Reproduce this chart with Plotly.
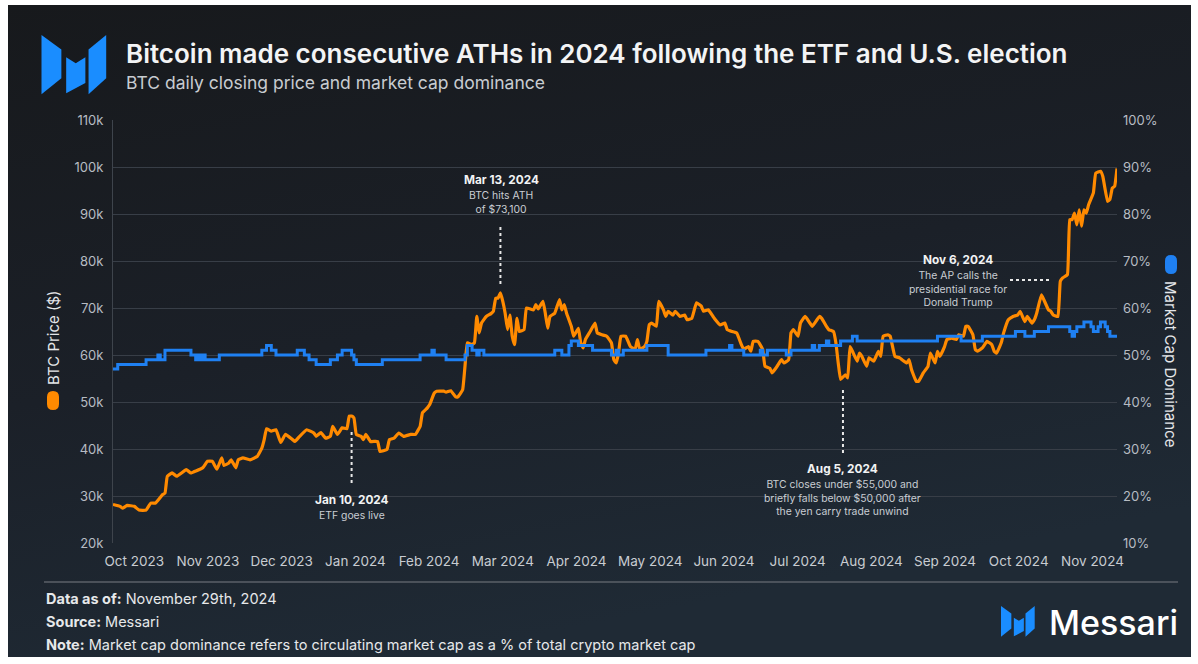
import base64
import numpy as np
import pandas as pd
import plotly.graph_objects as go

# ---------------- data ----------------
START = "2023-10-01"

price_day = [0, 3, 4, 6, 9, 11, 14, 16, 18, 21, 22, 23, 25, 27, 29, 31, 33, 35, 38, 40,
             42, 44, 46, 47, 49, 50, 52, 53, 55, 58, 61, 63, 64, 65, 67, 69, 71, 73, 76, 77,
             79, 82, 85, 86, 88, 90, 92, 93, 95, 97, 99, 100, 101, 102, 103, 105, 106, 107, 109, 112,
             113, 116, 117, 119, 121, 123, 126, 128, 130, 131, 133, 134, 136, 137, 140, 141, 143, 145, 146, 148,
             149, 150, 152, 153, 154, 155, 156, 158, 160, 161, 162, 163, 164, 165, 166, 167, 168, 169, 170, 171,
             172, 174, 175, 178, 179, 180, 182, 183, 184, 185, 187, 189, 190, 191, 192, 194, 195, 197, 198, 199,
             200, 202, 204, 205, 207, 209, 211, 212, 213, 214, 215, 217, 219, 221, 222, 223, 225, 226, 227, 228,
             230, 231, 233, 234, 235, 237, 238, 240, 242, 243, 245, 247, 249, 250, 252, 254, 255, 257, 259, 260,
             262, 264, 266, 267, 269, 270, 271, 273, 275, 276, 278, 279, 281, 282, 283, 284, 286, 287, 288, 290,
             291, 293, 295, 296, 298, 299, 300, 302, 303, 305, 306, 307, 308, 310, 311, 312, 313, 315, 316, 317,
             319, 320, 322, 323, 324, 325, 326, 328, 329, 331, 333, 334, 336, 337, 338, 340, 341, 343, 345, 346,
             348, 349, 350, 352, 353, 355, 357, 358, 360, 361, 362, 364, 365, 366, 368, 370, 372, 373, 374, 376,
             377, 379, 381, 383, 384, 386, 387, 389, 390, 391, 393, 394, 396, 397, 398, 400, 401, 402, 404, 405,
             406, 407, 408, 409, 410, 411, 412, 413, 415, 416, 418, 419, 421, 422, 423, 424, 425]

price_k = [28.2, 27.8, 27.4, 28.0, 27.8, 27.0, 27.0, 28.5, 28.5, 30.3, 30.6, 34.2, 34.9, 34.2, 34.9, 35.6, 34.9, 35.3, 36.0, 37.4,
           37.4, 35.7, 38.1, 36.5, 37.0, 37.7, 36.0, 37.7, 38.1, 37.7, 38.4, 40.2, 42.0, 44.3, 43.8, 44.1, 41.4, 43.1, 42.0, 41.6,
           42.7, 44.1, 43.4, 42.7, 43.5, 42.3, 42.7, 44.8, 43.1, 44.5, 44.3, 47.0, 47.0, 46.6, 43.1, 42.7, 42.0, 43.1, 41.6, 41.6,
           39.5, 39.9, 42.0, 42.3, 43.4, 42.7, 43.1, 43.1, 44.8, 47.7, 48.7, 49.4, 51.9, 52.3, 52.3, 52.1, 52.4, 51.1, 51.1, 52.6,
           57.6, 62.6, 62.2, 62.6, 68.2, 64.7, 66.8, 68.2, 68.8, 69.3, 72.1, 72.1, 73.2, 71.4, 68.9, 65.4, 68.5, 64.0, 62.2, 67.8,
           65.0, 65.4, 70.0, 69.6, 70.7, 69.8, 71.4, 68.9, 65.7, 68.2, 68.9, 71.8, 69.6, 70.7, 68.9, 66.1, 64.0, 65.7, 62.6, 61.5,
           63.3, 65.0, 66.8, 64.7, 64.3, 64.0, 62.6, 59.0, 58.3, 60.4, 64.0, 64.0, 61.8, 61.2, 63.3, 61.2, 61.8, 62.9, 66.4, 66.8,
           66.1, 71.4, 69.6, 68.2, 69.3, 68.5, 69.3, 68.2, 68.5, 67.5, 67.8, 71.1, 70.4, 69.3, 69.6, 68.2, 67.5, 66.4, 66.8, 65.4,
           65.0, 64.7, 62.2, 61.2, 61.8, 60.8, 62.9, 62.9, 61.2, 57.6, 57.2, 56.2, 57.5, 58.3, 59.0, 58.3, 59.0, 64.7, 65.4, 64.0,
           66.8, 68.2, 66.8, 66.1, 67.5, 68.2, 67.8, 66.1, 65.4, 65.0, 62.6, 58.3, 54.8, 55.8, 55.1, 61.8, 60.8, 58.7, 60.4, 59.7,
           57.6, 59.4, 58.7, 59.7, 60.8, 59.7, 64.0, 64.3, 64.0, 59.7, 59.4, 59.0, 58.3, 59.0, 56.9, 54.4, 54.4, 56.2, 57.6, 60.4,
           58.3, 60.8, 59.7, 61.8, 63.3, 63.6, 63.3, 64.3, 64.0, 66.1, 66.1, 64.3, 61.2, 60.8, 61.5, 62.9, 62.2, 60.8, 60.4, 62.6,
           64.7, 67.5, 68.2, 68.5, 69.3, 67.1, 68.2, 66.8, 67.5, 68.9, 72.8, 71.8, 69.6, 69.3, 68.5, 68.2, 75.7, 76.4, 77.1, 88.8,
           88.8, 90.2, 87.7, 90.9, 87.4, 90.9, 90.2, 92.0, 94.5, 98.7, 99.1, 98.0, 92.7, 93.1, 95.5, 95.9, 99.7]

dom_day = [0, 2, 14, 19, 20, 22, 33, 35, 36, 37, 38, 39, 45, 63, 65, 67, 69, 78, 81, 83,
           86, 92, 95, 97, 101, 102, 103, 114, 130, 135, 136, 141, 149, 150, 152, 154, 155, 157, 187, 190,
           193, 194, 197, 203, 211, 213, 214, 216, 226, 235, 251, 261, 262, 267, 274, 275, 277, 285, 287, 296,
           297, 299, 302, 303, 308, 313, 315, 349, 359, 368, 382, 386, 390, 396, 405, 406, 407, 408, 411, 414,
           415, 417, 418, 420, 421, 422, 425]
dom_pct = [47, 48, 49, 50, 49, 51, 50, 49, 50, 49, 50, 49, 50, 51, 52, 51, 50, 51, 50, 49,
           48, 49, 50, 51, 50, 49, 48, 49, 50, 51, 50, 49, 50, 52, 51, 50, 51, 50, 51, 50,
           52, 53, 52, 51, 50, 51, 50, 51, 52, 50, 51, 52, 51, 50, 51, 50, 51, 50, 51, 52,
           51, 52, 53, 52, 53, 54, 53, 54, 53, 54, 55, 54, 55, 56, 55, 54, 55, 56, 57, 56,
           55, 56, 57, 56, 55, 54, 54]

x_tick_labels = ["Oct 2023", "Nov 2023", "Dec 2023", "Jan 2024", "Feb 2024", "Mar 2024", "Apr 2024",
                 "May 2024", "Jun 2024", "Jul 2024", "Aug 2024", "Sep 2024", "Oct 2024", "Nov 2024"]
left_tick_vals = [20000, 30000, 40000, 50000, 60000, 70000, 80000, 90000, 100000, 110000]
left_tick_text = ["20k", "30k", "40k", "50k", "60k", "70k", "80k", "90k", "100k", "110k"]
right_tick_vals = [10, 20, 30, 40, 50, 60, 70, 80, 90, 100]
right_tick_text = ["10%", "20%", "30%", "40%", "50%", "60%", "70%", "80%", "90%", "100%"]

events = [
    ("2024-01-10", "Jan 10, 2024", "ETF goes live"),
    ("2024-03-13", "Mar 13, 2024", "BTC hits ATH<br>of $73,100"),
    ("2024-08-05", "Aug 5, 2024", "BTC closes under $55,000 and<br>briefly falls below $50,000 after<br>the yen carry trade unwind"),
    ("2024-11-06", "Nov 6, 2024", "The AP calls the<br>presidential race for<br>Donald Trump"),
]

# ---------------- geometry helpers ----------------
W, H = 1198, 664
L, R, T, B = 113, 1117, 120, 543


def px(x):
    return (x - L) / (R - L)


def py(y):
    return (B - y) / (B - T)


start = pd.Timestamp(START)
price_dates = start + pd.to_timedelta(price_day, unit="D")
price_vals = [v * 1000 for v in price_k]
dom_dates = start + pd.to_timedelta(dom_day, unit="D")
tick_dates = start + pd.to_timedelta(9 + 31.2 * np.arange(len(x_tick_labels)), unit="D")
end = start + pd.Timedelta(days=max(price_day))

ORANGE = "#ff8a00"
BLUE = "#1f80f2"
LOGO_BLUE = "#1a8dff"
FONT = "Inter"

fig = go.Figure()
fig.add_trace(go.Scatter(x=price_dates, y=price_vals, mode="lines",
                         line=dict(color=ORANGE, width=3.2, shape="spline", smoothing=0.3),
                         name="BTC Price ($)", yaxis="y", hoverinfo="x+y"))
fig.add_trace(go.Scatter(x=dom_dates, y=dom_pct, mode="lines",
                         line=dict(color=BLUE, width=3, shape="hv"),
                         name="Market Cap Dominance", yaxis="y2", hoverinfo="x+y"))

# ---------------- background gradient ----------------
pw, ph = 1183, 652
svg = (f'<svg xmlns="http://www.w3.org/2000/svg" width="{pw}" height="{ph}">'
       '<defs><linearGradient id="g" x1="0" y1="0" x2="0.35" y2="1">'
       '<stop offset="0" stop-color="#17191c"/><stop offset="0.55" stop-color="#1b2028"/>'
       '<stop offset="1" stop-color="#1f2a35"/></linearGradient></defs>'
       f'<rect width="{pw}" height="{ph}" fill="url(#g)"/></svg>')
src = "data:image/svg+xml;base64," + base64.b64encode(svg.encode()).decode()

images = [dict(source=src, xref="paper", yref="paper", x=px(8), y=py(5),
               sizex=px(8 + pw) - px(8), sizey=py(5) - py(5 + ph),
               xanchor="left", yanchor="top", sizing="stretch", layer="below")]

shapes = []


def poly(points):
    return "M " + " L ".join(f"{px(a):.5f},{py(b):.5f}" for a, b in points) + " Z"


def logo(ox, oy, s):
    pieces = [
        [(0, 0), (20.7, 15), (20.7, 45), (0, 61.7)],
        [(25.7, 23.3), (35.7, 29.5), (45.7, 23.3), (45.7, 50), (25.7, 60.7)],
        [(49, 15), (67.4, 0), (67.4, 45), (49, 61.7)],
    ]
    for pc in pieces:
        pts = [(ox + a * s, oy + b * s) for a, b in pc]
        shapes.append(dict(type="path", xref="paper", yref="paper", path=poly(pts),
                           fillcolor=LOGO_BLUE, line=dict(width=0), layer="above"))


logo(41.5, 35, 0.96)
logo(1001, 606, 0.5)


def capsule(x0, y0, x1, y1, color):
    r = (x1 - x0) / 2
    xm = (x0 + x1) / 2
    p = (f"M {px(x0):.5f},{py(y0 + r):.5f} Q {px(x0):.5f},{py(y0):.5f} {px(xm):.5f},{py(y0):.5f} "
         f"Q {px(x1):.5f},{py(y0):.5f} {px(x1):.5f},{py(y0 + r):.5f} L {px(x1):.5f},{py(y1 - r):.5f} "
         f"Q {px(x1):.5f},{py(y1):.5f} {px(xm):.5f},{py(y1):.5f} Q {px(x0):.5f},{py(y1):.5f} "
         f"{px(x0):.5f},{py(y1 - r):.5f} Z")
    shapes.append(dict(type="path", xref="paper", yref="paper", path=p,
                       fillcolor=color, line=dict(width=0)))


capsule(47, 391, 59, 410, ORANGE)
capsule(1165, 255, 1177, 274, BLUE)

# footer separator
shapes.append(dict(type="line", xref="paper", yref="paper", x0=px(44), x1=px(1178),
                   y0=py(582), y1=py(582), line=dict(color="#5b6169", width=1.5)))

# event marker lines
DOT = dict(color="#e8e8e8", width=2, dash="dot")
vlines = {"2024-01-10": (432, 483), "2024-03-13": (227, 287), "2024-08-05": (390, 455)}
for d, (ya, yb) in vlines.items():
    shapes.append(dict(type="line", xref="x", yref="paper", x0=d, x1=d,
                       y0=py(ya), y1=py(yb), line=DOT))
shapes.append(dict(type="line", xref="paper", yref="paper", x0=px(1010), x1=px(1052),
                   y0=py(280), y1=py(280), line=DOT))

# ---------------- annotations ----------------
ann = []


def text(x, y, s, size, color, xanchor="left", yanchor="middle", weight=400, angle=0, xref="paper"):
    ann.append(dict(x=x, y=y, xref=xref, yref="paper", text=s, showarrow=False,
                    xanchor=xanchor, yanchor=yanchor, textangle=angle, align="center",
                    font=dict(family=FONT, size=size, color=color, weight=weight)))


text(px(124), py(53), "Bitcoin made consecutive ATHs in 2024 following the ETF and U.S. election",
     26, "#f3f4f5", weight=600)
text(px(124), py(82), "BTC daily closing price and market cap dominance", 17.5, "#c8ccd1")

text(px(53), py(338), "BTC Price ($)", 15, "#e4e6e9", xanchor="center", angle=-90)
text(px(1171), py(364), "Market Cap Dominance", 15, "#e4e6e9", xanchor="center", angle=90)

ev_pos = {"2024-01-10": (352, 500), "2024-03-13": (501, 180),
          "2024-08-05": (842, 469), "2024-11-06": (958, 260)}
for d, head, desc in events:
    cx, hy = ev_pos[d]
    text(px(cx), py(hy), f"<b>{head}</b>", 11.8, "#f2f3f4", xanchor="center")
    text(px(cx), py(hy + 7), desc, 10.4, "#c9cdd3", xanchor="center", yanchor="top")

FOOT = "#e6e8ea"
text(px(44), py(598), "<b>Data as of:</b> November 29th, 2024", 14.5, FOOT)
text(px(44), py(621), "<b>Source:</b> Messari", 14.5, FOOT)
text(px(44), py(645), "<b>Note:</b> Market cap dominance refers to circulating market cap as a % of total crypto market cap",
     14.5, FOOT)
text(px(1047), py(622), "Messari", 34, "#ffffff", weight=500)

fig.update_layout(
    width=W, height=H, autosize=False,
    margin=dict(l=L, r=W - R, t=T, b=H - B, pad=0),
    paper_bgcolor="#ffffff", plot_bgcolor="rgba(0,0,0,0)",
    showlegend=False,
    images=images, shapes=shapes, annotations=ann,
    font=dict(family=FONT, color="#c8ccd1"),
    xaxis=dict(type="date", range=[start, end], showgrid=False, zeroline=False, showline=False,
               tickmode="array", tickvals=tick_dates, ticktext=x_tick_labels, ticks="",
               tickfont=dict(family=FONT, size=13.5, color="#c8ccd1"), ticklabelstandoff=8,
               fixedrange=True),
    yaxis=dict(range=[20000, 110000], tickmode="array", tickvals=left_tick_vals, ticktext=left_tick_text,
               showgrid=True, gridcolor="#383e47", gridwidth=1, zeroline=False,
               showline=True, linecolor="#3e444c", linewidth=1, ticks="",
               tickfont=dict(family=FONT, size=13, color="#b7bcc3"), ticklabelstandoff=6,
               fixedrange=True),
    yaxis2=dict(range=[10, 100], overlaying="y", side="right", tickmode="array",
                tickvals=right_tick_vals, ticktext=right_tick_text, showgrid=False, zeroline=False,
                showline=False, ticks="", tickfont=dict(family=FONT, size=13, color="#b7bcc3"),
                ticklabelstandoff=5, fixedrange=True),
)

fig.write_html("out.html", config={"displayModeBar": False},
               post_script="document.body.style.margin='0';")
